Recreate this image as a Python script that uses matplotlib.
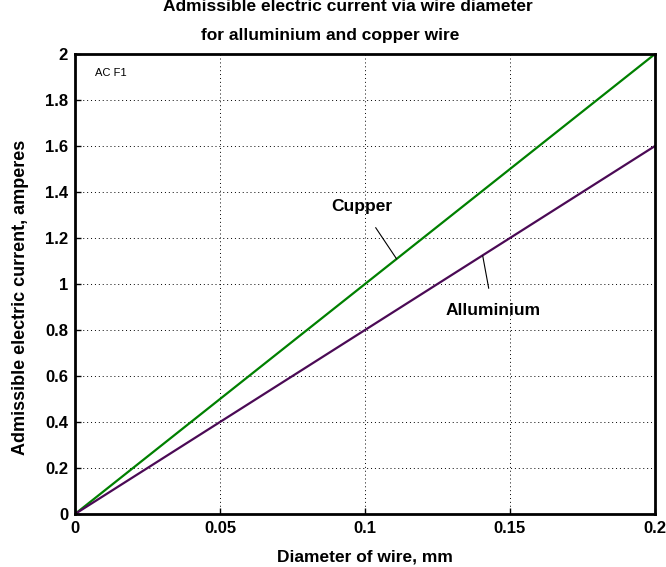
import matplotlib
matplotlib.use("Agg")
import matplotlib.pyplot as plt

plt.rcParams['font.family'] = ['Liberation Sans', 'DejaVu Sans']

# --- data ---
diameter = [0, 0.05, 0.1, 0.15, 0.2]
copper = [0, 0.5, 1.0, 1.5, 2.0]
aluminium = [0, 0.4, 0.8, 1.2, 1.6]
xticks = [0, 0.05, 0.1, 0.15, 0.2]
xtick_labels = ['0', '0.05', '0.1', '0.15', '0.2']
yticks = [0, 0.2, 0.4, 0.6, 0.8, 1.0, 1.2, 1.4, 1.6, 1.8, 2.0]
ytick_labels = ['0', '0.2', '0.4', '0.6', '0.8', '1', '1.2', '1.4', '1.6', '1.8', '2']

fig = plt.figure(figsize=(6.66, 5.67), dpi=100)
ax = fig.add_axes([75 / 666, 53 / 567, 580 / 666, 460 / 567])

ax.plot(diameter, copper, color='#008000', lw=1.6)
ax.plot(diameter, aluminium, color='#4b0a55', lw=1.6)

ax.set_xlim(0, 0.2)
ax.set_ylim(0, 2)
ax.set_xticks(xticks)
ax.set_xticklabels(xtick_labels, fontsize=12, fontweight='bold')
ax.set_yticks(yticks)
ax.set_yticklabels(ytick_labels, fontsize=12, fontweight='bold')
ax.tick_params(direction='in', length=4, width=1, pad=5)
ax.grid(True, linestyle=(0, (1, 3)), color='black', lw=0.7)
for s in ax.spines.values():
    s.set_linewidth(2)

ax.set_xlabel('Diameter of wire, mm', fontsize=12.5, fontweight='bold', labelpad=10)
ax.set_ylabel('Admissible electric current, amperes', fontsize=13, fontweight='bold')
ax.yaxis.set_label_coords(-0.08, 0.47)

# annotations
ax.annotate('Cupper', xy=(0.1109, 1.109), xytext=(0.0989, 1.335),
            ha='center', va='center', fontsize=12.5, fontweight='bold',
            arrowprops=dict(arrowstyle='-', color='black', lw=0.8, shrinkA=9, shrinkB=0))
ax.annotate('Alluminium', xy=(0.1406, 1.122), xytext=(0.1441, 0.883),
            ha='center', va='center', fontsize=12.5, fontweight='bold',
            arrowprops=dict(arrowstyle='-', color='black', lw=0.8, shrinkA=9, shrinkB=0))
ax.text(0.0069, 1.917, 'AC F1', fontsize=8, ha='left', va='center')

fig.text(348 / 666, 1 - 11 / 567, 'Admissible electric current via wire diameter',
         ha='center', va='baseline', fontsize=12.5, fontweight='bold')
fig.text(330 / 666, 1 - 40 / 567, 'for alluminium and copper wire',
         ha='center', va='baseline', fontsize=12.5, fontweight='bold')

fig.savefig('out.png', dpi=100)
